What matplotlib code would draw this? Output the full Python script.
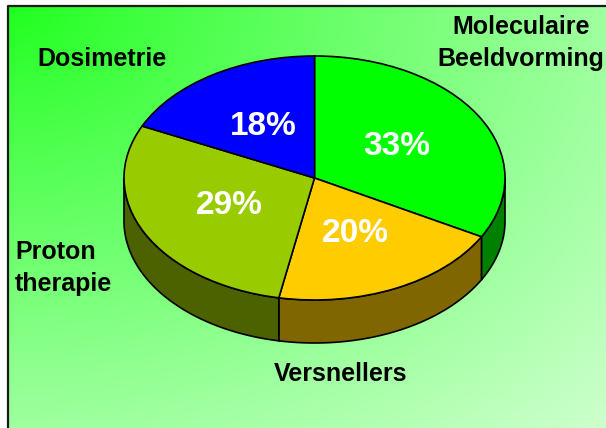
import numpy as np
import matplotlib.pyplot as plt
from matplotlib.patches import Wedge, Polygon
from matplotlib.transforms import Affine2D

# data
labels = ['Moleculaire\nBeeldvorming', 'Versnellers', 'Proton\ntherapie', 'Dosimetrie']
shares = [33, 20, 29, 18]
top_colors = ['#00FF00', '#FFCC00', '#99CC00', '#0000FF']
side_colors = ['#008000', '#806600', '#4C6100', '#000080']

W, H = 606, 428
cx, cy = 314.5, 178      # pie centre (pixels)
rx, ry = 190.5, 122      # ellipse radii
depth = 43

fig = plt.figure(figsize=(W / 100, H / 100), dpi=100)
ax = fig.add_axes([0, 0, 1, 1])
ax.set_xlim(0, W)
ax.set_ylim(H, 0)
ax.axis('off')

# gradient background, radial from the top-left corner
x0, y0 = 8, 6
gx, gy = np.meshgrid(np.linspace(0, 1, 300), np.linspace(0, 1, 220))
t = np.clip(np.sqrt(gx ** 2 + gy ** 2) / np.sqrt(2), 0, 1)
v = (31 + (206 - 31) * t ** 0.9) / 255
img = np.dstack([v, np.ones_like(v), v])
ax.imshow(img, extent=[x0, W + 2, H + 2, y0], aspect='auto', zorder=0,
          interpolation='bilinear')
ax.plot([x0, x0, W + 5], [H + 5, y0, y0], color='#1a1a1a', lw=1.6, zorder=1)

# slice angles: start at 12 o'clock, clockwise
cum = np.concatenate([[0], np.cumsum(shares)]) / sum(shares)
starts = 90 - 360 * cum[:-1]
ends = 90 - 360 * cum[1:]

# side walls (front half only)
for a_end, a_start, col in zip(ends, starts, side_colors):
    for k in (-1, 0, 1):
        lo = max(a_end, -180 + 360 * k)
        hi = min(a_start, 0 + 360 * k)
        if hi <= lo:
            continue
        th = np.radians(np.linspace(lo, hi, 80))
        xs = cx + rx * np.cos(th)
        ys = cy - ry * np.sin(th)
        pts = np.column_stack([np.concatenate([xs, xs[::-1]]),
                               np.concatenate([ys, ys[::-1] + depth])])
        ax.add_patch(Polygon(pts, closed=True, facecolor=col,
                             edgecolor='black', lw=1.2, zorder=2))

# top faces
tr = Affine2D().scale(rx, -ry).translate(cx, cy) + ax.transData
for a_end, a_start, col in zip(ends, starts, top_colors):
    ax.add_patch(Wedge((0, 0), 1, a_end, a_start, facecolor=col,
                       edgecolor='black', lw=1.2, transform=tr, zorder=3))

# percentage labels
for a_end, a_start, s in zip(ends, starts, shares):
    m = np.radians((a_end + a_start) / 2)
    ax.text(cx + 0.5 * rx * np.cos(m), cy - 0.5 * ry * np.sin(m), f'{s}%',
            color='white', fontsize=24, fontweight='bold',
            family='Liberation Sans', ha='center', va='center', zorder=4)

# category labels
lab_font = dict(fontsize=18, fontweight='bold', family='Liberation Sans',
                color='black', zorder=4, linespacing=1.45)
ax.text(521, 43, labels[0], ha='center', va='center', **lab_font)
ax.text(341, 374, labels[1], ha='center', va='center', **lab_font)
ax.text(15, 268, labels[2], ha='left', va='center', **lab_font)
ax.text(102, 59, labels[3], ha='center', va='center', **lab_font)

fig.savefig('out.png', dpi=100)
